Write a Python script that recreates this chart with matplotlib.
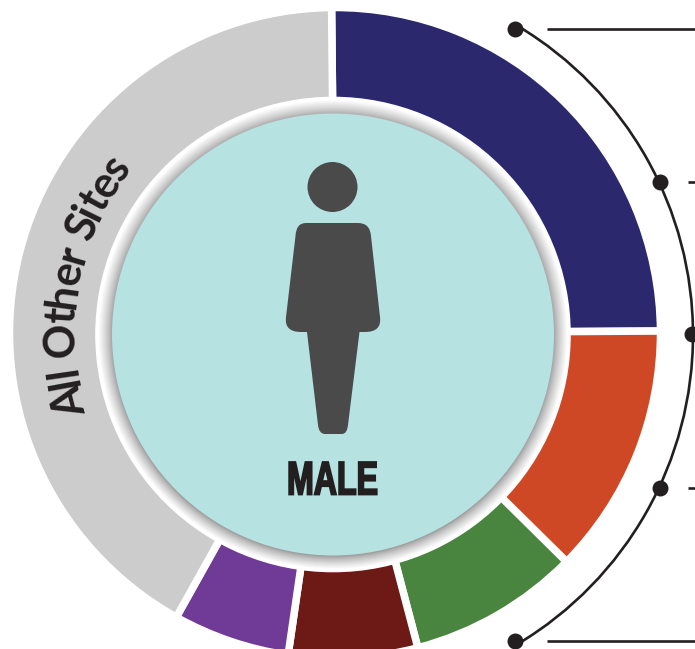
import numpy as np
import matplotlib
matplotlib.use('Agg')
import matplotlib.pyplot as plt
import matplotlib.patheffects as pe
from matplotlib.patches import Circle, Arc, PathPatch
from matplotlib.path import Path
from matplotlib.textpath import TextPath
from matplotlib.font_manager import FontProperties
from matplotlib.transforms import Affine2D

# share of each slice, clockwise from 12 o'clock
shares = [25.07, 12.5, 8.5, 6.4, 5.8, 41.73]
colors = ['#2B286E', '#CF4826', '#4A8540', '#6D1916', '#6F3B96', '#CCCCCC']

# picture is 695x649, axes run in pixels with y going up
W, H = 695, 649
cx, cy = 335, H - 333
R_out, R_in = 325.5, 225
R_ring = 237.8
R_face = 221

# callout arc: dots and leader lines (pixel positions)
dot_x = [515, 660, 692, 660, 515]
dot_y = [29, 182, 334, 488, 641]
lead_y = [29, 182, 488, 641]
lead_x0 = [547, 688, 688, 547]

label = 'All Other Sites'
label_from, label_to = 197.5, 141.0   # degrees, math convention
label_r = 261

fig = plt.figure(figsize=(6.95, 6.49), dpi=100)
ax = fig.add_axes([0, 0, 1, 1])

ax.pie(shares, colors=colors, startangle=90.6, counterclock=False,
       center=(cx, cy), radius=R_out,
       wedgeprops=dict(width=R_out - R_in, edgecolor='white', linewidth=5.4))
ax.set_xlim(0, W)
ax.set_ylim(0, H)
ax.set_aspect('equal')
ax.axis('off')

# white ring and soft shadow round the teal face
fx, fy = 333, H - 334.5
ax.add_patch(Circle((fx, fy), R_ring, fc='white', ec='none', zorder=3))
for i in range(14, -1, -1):
    g = 0.62 + (1 - 0.62) * (i / 14) ** 0.8
    ax.add_patch(Circle((fx, fy - 0.08 * (14 - i)), R_face + i, fc=(g, g, g), ec='none', zorder=3))
ax.add_patch(Circle((fx, fy), R_face, fc='#B6E2E1', ec='none', zorder=4))

# person
ink = '#4A4A4A'
ax.add_patch(Circle((332.5, H - 187), 25, fc=ink, ec='none', zorder=5))
body = [(306, 223), (296, 223), (295.5, 236), (286, 317), (284, 332), (301, 332), (307, 332),
        (318, 425), (319, 434), (325, 434), (342, 434), (347, 434), (348, 425),
        (359.5, 332), (365, 332), (382, 332), (380, 317), (371, 236), (370, 223), (358, 223), (306, 223)]
codes = [Path.MOVETO, Path.CURVE3, Path.CURVE3, Path.LINETO, Path.CURVE3, Path.CURVE3, Path.LINETO,
         Path.LINETO, Path.CURVE3, Path.CURVE3, Path.LINETO, Path.CURVE3, Path.CURVE3,
         Path.LINETO, Path.LINETO, Path.CURVE3, Path.CURVE3, Path.LINETO, Path.CURVE3, Path.CURVE3, Path.CLOSEPOLY]
ax.add_patch(PathPatch(Path([(x, H - y) for x, y in body], codes), fc=ink, ec='none', zorder=5))


class Squeeze(pe.AbstractPathEffect):
    # narrows and fattens the glyphs, no condensed heavy font is installed
    def __init__(self, sx, x0, lw):
        super().__init__()
        self.sx, self.x0, self.lw = sx, x0, lw

    def draw_path(self, renderer, gc, tpath, affine, rgbFace=None):
        a = affine + Affine2D().translate(-self.x0, 0).scale(self.sx, 1).translate(self.x0, 0)
        gc0 = renderer.new_gc()
        gc0.copy_properties(gc)
        gc0.set_foreground(rgbFace)
        gc0.set_linewidth(self.lw)
        gc0.set_joinstyle('miter')
        renderer.draw_path(gc0, tpath, a, rgbFace)
        gc0.restore()


t = ax.text(332.5, H - 494.5, 'MALE', ha='center', va='baseline', fontsize=34, color='#231F20',
            family=['Liberation Sans', 'DejaVu Sans'], weight='bold', zorder=6)
t.set_path_effects([Squeeze(0.68, 332.5, 1.3)])

# curved label, one character at a time, tops pointing outwards
fp = FontProperties(family=['Lato', 'DejaVu Sans'], weight='bold', size=31)
bar = TextPath((0, 0), '|', prop=fp).get_extents().x1
ends = np.array([TextPath((0, 0), label[:i] + '|', prop=fp).get_extents().x1 - bar
                 for i in range(1, len(label) + 1)])
starts = np.r_[0, ends[:-1]]
mids = (starts + ends) / 2 / ends[-1]
for ch, m in zip(label, mids):
    if ch == ' ':
        continue
    phi = label_from + (label_to - label_from) * m
    px = cx + label_r * np.cos(np.radians(phi))
    py = cy + label_r * np.sin(np.radians(phi))
    ax.text(px, py, ch, rotation=phi - 90, rotation_mode='anchor', ha='center', va='baseline',
            color='#231F20', fontproperties=fp, zorder=6)

# callout arc with dots
line = '#231F20'
ax.add_patch(Arc((333, H - 335), 720, 720, theta1=-59, theta2=59, ec=line, lw=1.9, zorder=2))
ax.scatter(dot_x, [H - y for y in dot_y], s=132, color=line, zorder=3, clip_on=True, linewidths=0)
for x0, y in zip(lead_x0, lead_y):
    ax.plot([x0, W], [H - y, H - y], color=line, lw=1.9, solid_capstyle='butt')

ax.set_xlim(0, W)
ax.set_ylim(0, H)
fig.savefig('out.png', dpi=100)
